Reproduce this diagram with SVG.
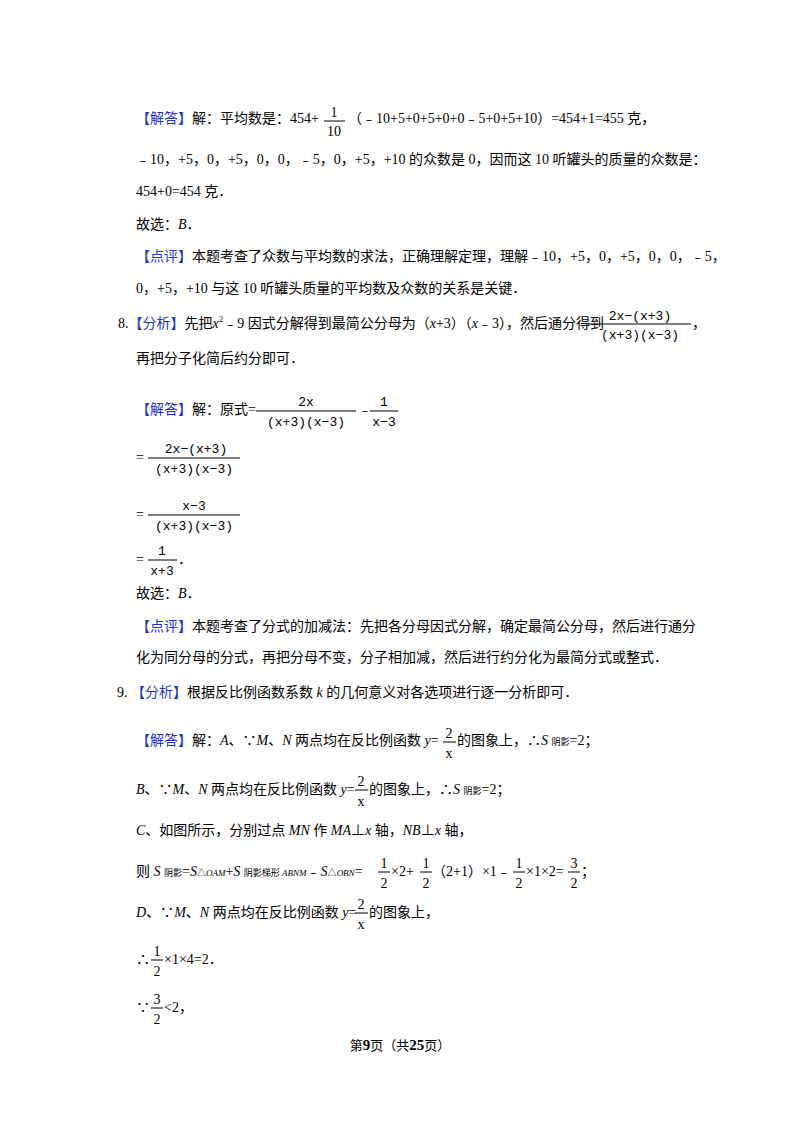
<svg xmlns="http://www.w3.org/2000/svg" width="800" height="1132" viewBox="0 0 800 1132">
<style>
text{font-family:"Liberation Serif","Noto Sans CJK SC",serif;font-size:14px;fill:#000}
.b{fill:#2233cc}
.i{font-style:italic}
.s{font-size:9px}
.m{font-family:"Liberation Mono","Noto Sans CJK SC",monospace;font-size:13px}
.c{text-anchor:middle}
line{stroke:#000;stroke-width:1}
</style>
<rect width="800" height="1132" fill="#fff"/>
<g id="p1">
<text x="136" y="123"><tspan class="b">【解答】</tspan>解：平均数是：454+</text>
<text x="334" y="117" class="c">1</text><line x1="324" y1="121" x2="345" y2="121"/><text x="334" y="136" class="c">10</text>
<text x="348" y="123">（﹣10+5+0+5+0+0﹣5+0+5+10）=454+1=455 克，</text>
<text x="136" y="164">﹣10，+5，0，+5，0，0，﹣5，0，+5，+10 的众数是 0，因而这 10 听罐头的质量的众数是：</text>
<text x="136" y="196">454+0=454 克．</text>
<text x="136" y="229">故选：<tspan class="i">B</tspan>．</text>
<text x="136" y="261"><tspan class="b">【点评】</tspan>本题考查了众数与平均数的求法，正确理解定理，理解﹣10，+5，0，+5，0，0，﹣5，</text>
<text x="136" y="293">0，+5，+10 与这 10 听罐头质量的平均数及众数的关系是关键．</text>
</g>
<g id="p2">
<text x="118" y="328">8.<tspan class="b">【分析】</tspan>先把<tspan class="i">x</tspan><tspan class="s" dy="-6">2</tspan><tspan dy="6">﹣9 因式分解得到最简公分母为（</tspan><tspan class="i">x</tspan>+3）（<tspan class="i">x</tspan>﹣3），然后通分得到</text>
<text x="640" y="320" class="c m">2x−(x+3)</text><line x1="588" y1="324" x2="691" y2="324"/><text x="640" y="339" class="c m">(x+3)(x−3)</text>
<text x="692" y="328">，</text>
<text x="136" y="363">再把分子化简后约分即可．</text>
<text x="136" y="414"><tspan class="b">【解答】</tspan>解：原式=</text>
<text x="306" y="406" class="c m">2x</text><line x1="256" y1="411" x2="356" y2="411"/><text x="306" y="426" class="c m">(x+3)(x−3)</text>
<text x="358" y="414">﹣</text>
<text x="384" y="406" class="c m">1</text><line x1="370" y1="411" x2="398" y2="411"/><text x="384" y="426" class="c m">x−3</text>
<text x="136" y="462">=</text>
<text x="196" y="453" class="c m">2x−(x+3)</text><line x1="148" y1="458" x2="240" y2="458"/><text x="194" y="473" class="c m">(x+3)(x−3)</text>
<text x="136" y="519">=</text>
<text x="194" y="510" class="c m">x−3</text><line x1="148" y1="515" x2="240" y2="515"/><text x="194" y="530" class="c m">(x+3)(x−3)</text>
<text x="136" y="564">=</text>
<text x="162" y="555" class="c m">1</text><line x1="148" y1="560" x2="177" y2="560"/><text x="162" y="575" class="c m">x+3</text>
<text x="178" y="564">．</text>
<text x="136" y="598">故选：<tspan class="i">B</tspan>．</text>
<text x="136" y="631"><tspan class="b">【点评】</tspan>本题考查了分式的加减法：先把各分母因式分解，确定最简公分母，然后进行通分</text>
<text x="136" y="662">化为同分母的分式，再把分母不变，分子相加减，然后进行约分化为最简分式或整式．</text>
</g>
<g id="p3">
<text x="117" y="697">9.  <tspan class="b">【分析】</tspan>根据反比例函数系数 <tspan class="i">k</tspan> 的几何意义对各选项进行逐一分析即可．</text>
<text x="136" y="745"><tspan class="b">【解答】</tspan>解：<tspan class="i">A</tspan>、∵<tspan class="i">M</tspan>、<tspan class="i">N</tspan> 两点均在反比例函数 <tspan class="i">y</tspan>=</text>
<text x="449" y="738" class="c">2</text><line x1="443" y1="742" x2="456" y2="742"/><text x="449" y="758" class="c">x</text>
<text x="457" y="745">的图象上，∴<tspan class="i">S</tspan> <tspan class="s">阴影</tspan>=2；</text>
<text x="136" y="794"><tspan class="i">B</tspan>、∵<tspan class="i">M</tspan>、<tspan class="i">N</tspan> 两点均在反比例函数 <tspan class="i">y</tspan>=</text>
<text x="361" y="786" class="c">2</text><line x1="355" y1="790" x2="368" y2="790"/><text x="361" y="806" class="c">x</text>
<text x="369" y="794">的图象上，∴<tspan class="i">S</tspan> <tspan class="s">阴影</tspan>=2；</text>
<text x="136" y="835"><tspan class="i">C</tspan>、如图所示，分别过点 <tspan class="i">MN</tspan> 作 <tspan class="i">MA</tspan>⊥<tspan class="i">x</tspan> 轴，<tspan class="i">NB</tspan>⊥<tspan class="i">x</tspan> 轴，</text>
<text x="136" y="876">则 <tspan class="i">S</tspan> <tspan class="s">阴影</tspan>=<tspan class="i">S</tspan><tspan class="s">△<tspan class="i">OAM</tspan></tspan>+<tspan class="i">S</tspan> <tspan class="s">阴影梯形 <tspan class="i">ABNM</tspan></tspan>﹣<tspan class="i">S</tspan><tspan class="s">△<tspan class="i">OBN</tspan></tspan>=</text>
<text x="384" y="868" class="c">1</text><line x1="378" y1="872" x2="390" y2="872"/><text x="384" y="888" class="c">2</text>
<text x="391" y="876">×2+</text>
<text x="426" y="868" class="c">1</text><line x1="420" y1="872" x2="432" y2="872"/><text x="426" y="888" class="c">2</text>
<text x="432" y="876">（2+1）×1﹣</text>
<text x="519" y="868" class="c">1</text><line x1="513" y1="872" x2="525" y2="872"/><text x="519" y="888" class="c">2</text>
<text x="526" y="876">×1×2=</text>
<text x="574" y="868" class="c">3</text><line x1="568" y1="872" x2="580" y2="872"/><text x="574" y="888" class="c">2</text>
<text x="581" y="876">；</text>
<text x="136" y="917"><tspan class="i">D</tspan>、∵<tspan class="i">M</tspan>、<tspan class="i">N</tspan> 两点均在反比例函数 <tspan class="i">y</tspan>=</text>
<text x="361" y="909" class="c">2</text><line x1="355" y1="913" x2="368" y2="913"/><text x="361" y="929" class="c">x</text>
<text x="369" y="917">的图象上，</text>
<text x="136" y="964">∴</text>
<text x="157" y="956" class="c">1</text><line x1="151" y1="960" x2="163" y2="960"/><text x="157" y="976" class="c">2</text>
<text x="164" y="964">×1×4=2．</text>
<text x="136" y="1012">∵</text>
<text x="157" y="1004" class="c">3</text><line x1="151" y1="1008" x2="163" y2="1008"/><text x="157" y="1024" class="c">2</text>
<text x="164" y="1012">&lt;2，</text>
</g>
<text x="400" y="1050" class="c" style="font-size:13px">第<tspan font-weight="bold" font-size="15">9</tspan>页（共<tspan font-weight="bold" font-size="15">25</tspan>页）</text>
</svg>
